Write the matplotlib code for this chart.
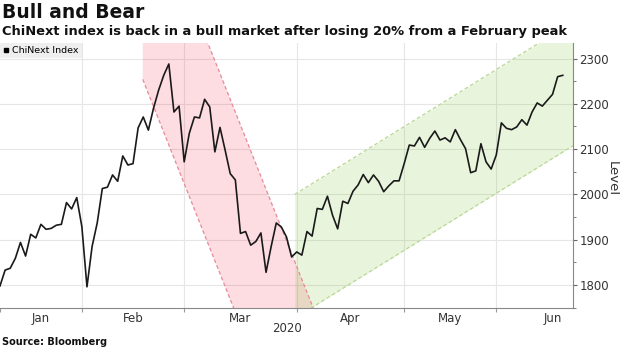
import matplotlib
matplotlib.use('Agg')
import matplotlib.pyplot as plt
import numpy as np
from matplotlib.lines import Line2D

# ChiNext index, one value per trading day (Jan 2020 .. mid Jun 2020)
level = [1798, 1833, 1837, 1859, 1894, 1864, 1912, 1904, 1934, 1923,
         1925, 1932, 1934, 1982, 1968, 1993, 1929, 1796, 1885, 1937,
         2013, 2016, 2043, 2029, 2085, 2065, 2068, 2147, 2171, 2142,
         2190, 2230, 2263, 2288, 2182, 2195, 2072, 2135, 2171, 2169,
         2210, 2193, 2094, 2148, 2098, 2046, 2032, 1914, 1918, 1888,
         1896, 1915, 1828, 1885, 1937, 1928, 1906, 1862, 1873, 1866,
         1918, 1908, 1969, 1967, 1996, 1954, 1924, 1985, 1980, 2007,
         2021, 2044, 2026, 2043, 2029, 2006, 2019, 2030, 2030, 2068,
         2109, 2107, 2126, 2104, 2124, 2140, 2120, 2125, 2116, 2143,
         2121, 2101, 2048, 2052, 2112, 2072, 2056, 2087, 2158, 2146,
         2143, 2149, 2165, 2153, 2182, 2202, 2195, 2208, 2221, 2260,
         2263]

# month boundaries (trading-day index) and labels
month_ticks = [0, 16, 36, 58, 79, 97]
month_labels = ['Jan', 'Feb', 'Mar', 'Apr', 'May', 'Jun']
month_label_pos = [8, 26, 47, 68.4, 88, 108]
y_ticks = [1800, 1900, 2000, 2100, 2200, 2300]

# trend channels: start index, (lower, upper) at start, slope per day
bear_start = 27.9
bear_lower0 = 2254
bear_upper0 = 2335 + 28.4 * (40.6 - 27.9)
bear_slope = -28.4
bull_start = 57.6
bull_lower0 = 1752 - 7.0 * (61.2 - 57.6)
bull_upper0 = 2000
bull_slope = 7.0

x = np.arange(len(level))

fig = plt.figure(figsize=(6.2, 3.48), dpi=100)
ax = fig.add_axes([0.0, 0.1141, 0.9242, 0.7632])

xlo, xhi = 0, 112
ylo, yhi = 1748.6, 2335

# bear channel (red)
bx = np.array([bear_start, 75])
b_low = bear_lower0 + bear_slope * (bx - bear_start)
b_up = bear_upper0 + bear_slope * (bx - bear_start)
ax.fill_between(bx, b_low, b_up, color=(0.95, 0.11, 0.24), alpha=0.15, lw=0, zorder=1)
ax.plot(bx, b_low, ls=(0, (3, 2)), color='#e58a98', lw=0.9, zorder=2)
ax.plot(bx, b_up, ls=(0, (3, 2)), color='#e58a98', lw=0.9, zorder=2)

# bull channel (green)
gx = np.array([bull_start, 120])
g_low = bull_lower0 + bull_slope * (gx - bull_start)
g_up = bull_upper0 + bull_slope * (gx - bull_start)
ax.fill_between(gx, g_low, g_up, color=(0.42, 0.76, 0.09), alpha=0.15, lw=0, zorder=1)
ax.plot(gx, g_low, ls=(0, (3, 2)), color='#bad796', lw=0.9, zorder=2)
ax.plot(gx, g_up, ls=(0, (3, 2)), color='#bad796', lw=0.9, zorder=2)

ax.plot(x, level, color='#1a1a1a', lw=1.2, zorder=4)

ax.set_xlim(xlo, xhi)
ax.set_ylim(ylo, yhi)

# grid
for t in month_ticks[1:]:
    ax.axvline(t, color='#e6e6e6', lw=0.8, zorder=0)
for t in y_ticks:
    ax.axhline(t, color='#e6e6e6', lw=0.8, zorder=0)

tick_font = ['Liberation Sans Narrow', 'DejaVu Sans']

ax.set_xticks(month_ticks)
ax.set_xticklabels([])
ax.set_xticks(month_label_pos, minor=True)
ax.set_xticklabels(month_labels, minor=True, fontsize=8.5, color='#333333', family=tick_font)
ax.tick_params(axis='x', which='major', length=3, color='#999999', direction='out')
ax.tick_params(axis='x', which='minor', length=0, pad=3)

ax.yaxis.tick_right()
ax.set_yticks(y_ticks)
ax.set_yticklabels([str(v) for v in y_ticks], fontsize=8.5, color='#333333', family=tick_font)
ax.set_yticks(np.arange(1750, 2350, 50), minor=True)
ax.tick_params(axis='y', which='major', length=3, color='#666666', pad=1.5)
ax.tick_params(axis='y', which='minor', length=2, color='#666666')

for side in ['top', 'left']:
    ax.spines[side].set_visible(False)
ax.spines['right'].set_color('#888888')
ax.spines['bottom'].set_color('#888888')

fig.text(0.988, 0.488, 'Level', rotation=270, ha='center', va='center',
         fontsize=9.5, color='#333333', family=tick_font)
fig.text(287 / 620, 1 - 328 / 348, '2020', ha='center', va='center',
         fontsize=8.5, color='#333333', family=tick_font)

# legend
handle = Line2D([], [], marker='s', color='black', ls='none', markersize=3.5)
leg = ax.legend([handle], ['ChiNext Index'], loc='upper left', frameon=True,
                fancybox=False, borderaxespad=0, handlelength=0.6,
                handletextpad=0.3, borderpad=0.35,
                prop={'family': tick_font, 'size': 6.8})
leg.get_frame().set_facecolor('#efefef')
leg.get_frame().set_edgecolor('none')
leg.get_frame().set_alpha(1)
leg.set_zorder(5)

fig.text(0.003, 1 - 13 / 348, 'Bull and Bear', fontsize=13.5, fontweight='bold',
         ha='left', va='center', color='#111111')
fig.text(0.003, 1 - 32 / 348,
         'ChiNext index is back in a bull market after losing 20% from a February peak',
         fontsize=9.4, fontweight='bold', ha='left', va='center', color='#111111')
fig.text(0.003, 1 - 342 / 348, 'Source: Bloomberg', fontsize=7, fontweight='bold',
         ha='left', va='center', color='#111111')

fig.savefig('out.png', dpi=100)
